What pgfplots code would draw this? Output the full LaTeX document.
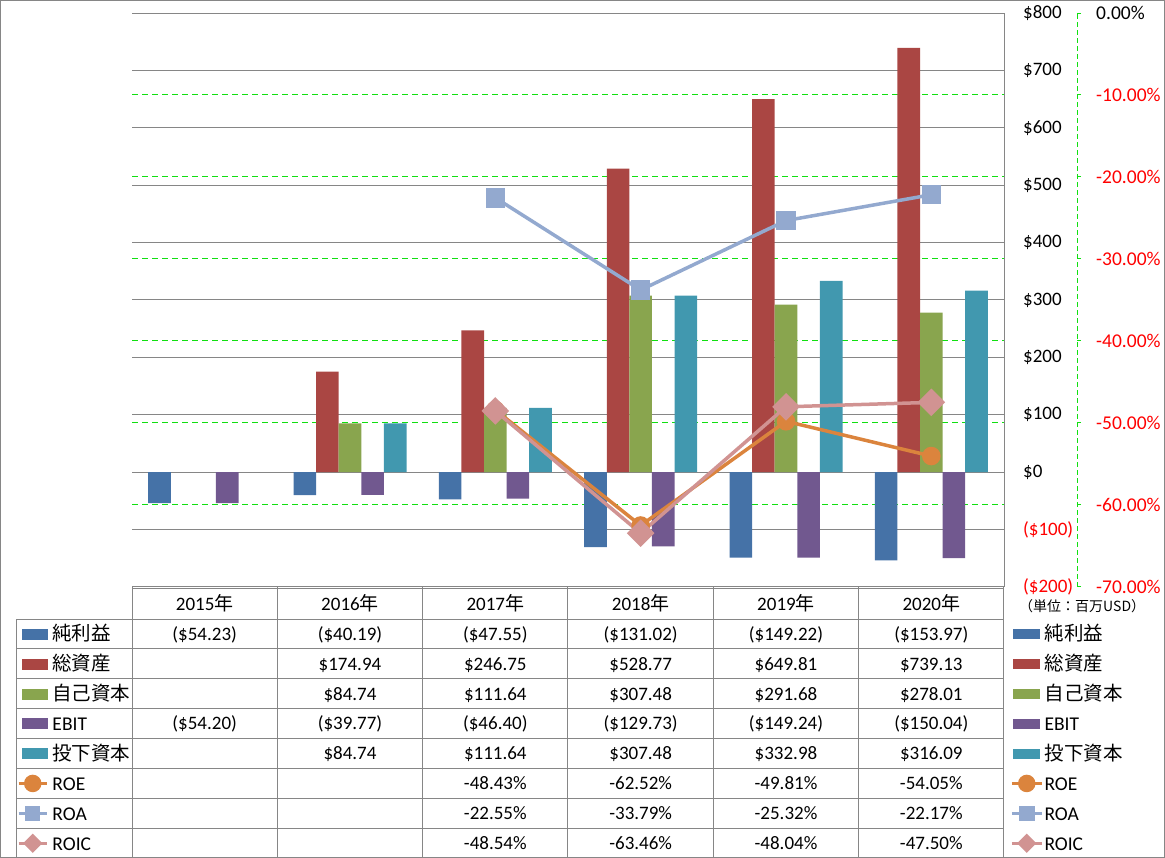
\documentclass[border=0pt]{standalone}
\usepackage{fontspec}
\setmainfont{Carlito}
\newfontfamily\jp{Noto Sans CJK JP}
\usepackage{pgfplots}
\pgfplotsset{compat=1.18}

\definecolor{c1}{HTML}{4572A7}
\definecolor{c2}{HTML}{AA4643}
\definecolor{c3}{HTML}{89A54E}
\definecolor{c4}{HTML}{71588F}
\definecolor{c5}{HTML}{4198AF}
\definecolor{roe}{HTML}{DB843D}
\definecolor{roa}{HTML}{93A9CF}
\definecolor{roic}{HTML}{D19392}
\definecolor{gridgray}{HTML}{868686}
\definecolor{grn}{HTML}{10E010}

\pgfplotsset{
  linekey/.style={legend image code/.code={\draw[mark repeat=2,mark phase=2,##1] plot coordinates {(0pt,0pt) (15pt,0pt) (30pt,0pt)};}},
  linekeyL/.style={legend image code/.code={\draw[mark repeat=2,mark phase=2,##1] plot coordinates {(0pt,0pt) (14pt,0pt) (28pt,0pt)};}},
  roestyle/.style={roe, line width=3.5pt, mark=*, mark size=7.5pt, mark options={fill=roe, draw=roe}},
  roastyle/.style={roa, line width=3.5pt, mark=square*, mark size=8pt, mark options={fill=roa, draw=roa, rounded corners=2pt}},
  roicstyle/.style={roic, line width=3.5pt, mark=square*, mark size=8pt, mark options={fill=roic, draw=roic, rotate=45}},
  roekey/.style={roe, line width=3.5pt, mark=*, mark size=7pt, mark options={fill=roe, draw=roe}},
  roakey/.style={roa, line width=3.5pt, mark=square*, mark size=6pt, mark options={fill=roa, draw=roa, rounded corners=2pt}},
  roickey/.style={roic, line width=3.5pt, mark=square*, mark size=5pt, mark options={fill=roic, draw=roic, rotate=45}},
}

% table cell: column (0..5), row (0..7), text
\newcommand\cell[3]{\node[anchor=base] at ({204.67+145.33*#1},{-(633.95+29.9*#2+6.3)}) {#3};}
\newcommand\trow[7]{\cell{0}{#1}{#2}\cell{1}{#1}{#3}\cell{2}{#1}{#4}\cell{3}{#1}{#5}\cell{4}{#1}{#6}\cell{5}{#1}{#7}}

\begin{document}
\begin{tikzpicture}
\useasboundingbox (0pt,0pt) rectangle (1165pt,-858pt);

% primary axis: bars
\begin{axis}[
  at={(132pt,-586.8pt)}, anchor=south west,
  scale only axis, width=872pt, height=573.8pt,
  xmin=-0.5, xmax=5.5, ymin=-200, ymax=800,
  xtick=\empty,
  axis x line=none, axis y line*=right,
  y axis line style={draw=gridgray, line width=1pt},
  ytick={-200,-100,...,800},
  yticklabels={\textcolor{red}{(\$200)},\textcolor{red}{(\$100)},\$0,\$100,\$200,\$300,\$400,\$500,\$600,\$700,\$800},
  yticklabel style={anchor=west, inner sep=0pt, xshift=19pt, font=\fontsize{19}{22}\selectfont},
  major tick length=0pt,
  ymajorgrids, major grid style={gridgray, line width=1pt},
  extra y ticks={657.142857,514.285714,371.428571,228.571429,85.714286,-57.142857},
  extra y tick labels={},
  extra y tick style={grid=major, major grid style={grn, line width=1pt, dash pattern=on 6pt off 4pt}},
  legend style={at={(axis description cs:1.00688,-0.0561)}, anchor=north west,
    draw=none, fill=none, inner sep=0pt, outer sep=0pt, row sep=0pt, column sep=1pt,
    font=\fontsize{19.5}{22}\selectfont,
    nodes={inner sep=0pt, text height=21.95pt, text depth=7.95pt, anchor=west}},
  legend cell align=left,
]
\addplot[ybar, bar width=0.1555, bar shift=-0.311, fill=c1, draw=none,
  legend image code/.code={\fill[c1] (1pt,-5pt) rectangle (28pt,5pt);}]
  coordinates {(0,-54.23) (1,-40.19) (2,-47.55) (3,-131.02) (4,-149.22) (5,-153.97)};
\addlegendentry{\jp 純利益}
\addplot[ybar, bar width=0.1555, bar shift=-0.1555, fill=c2, draw=none,
  legend image code/.code={\fill[c2] (1pt,-5pt) rectangle (28pt,5pt);}]
  coordinates {(1,174.94) (2,246.75) (3,528.77) (4,649.81) (5,739.13)};
\addlegendentry{\jp 総資産}
\addplot[ybar, bar width=0.1555, bar shift=0, fill=c3, draw=none,
  legend image code/.code={\fill[c3] (1pt,-5pt) rectangle (28pt,5pt);}]
  coordinates {(1,84.74) (2,111.64) (3,307.48) (4,291.68) (5,278.01)};
\addlegendentry{\jp 自己資本}
\addplot[ybar, bar width=0.1555, bar shift=0.1555, fill=c4, draw=none,
  legend image code/.code={\fill[c4] (1pt,-5pt) rectangle (28pt,5pt);}]
  coordinates {(0,-54.20) (1,-39.77) (2,-46.40) (3,-129.73) (4,-149.24) (5,-150.04)};
\addlegendentry{EBIT}
\addplot[ybar, bar width=0.1555, bar shift=0.311, fill=c5, draw=none,
  legend image code/.code={\fill[c5] (1pt,-5pt) rectangle (28pt,5pt);}]
  coordinates {(1,84.74) (2,111.64) (3,307.48) (4,332.98) (5,316.09)};
\addlegendentry{\jp 投下資本}
\addlegendimage{roekey, linekey}
\addlegendentry{ROE}
\addlegendimage{roakey, linekey}
\addlegendentry{ROA}
\addlegendimage{roickey, linekey}
\addlegendentry{ROIC}
\end{axis}

% secondary axis: ratios
\begin{axis}[
  at={(132pt,-586.8pt)}, anchor=south west,
  scale only axis, width=872pt, height=573.8pt,
  xmin=-0.5, xmax=5.5, ymin=-70, ymax=0,
  xtick=\empty,
  axis x line=none, axis y line*=right,
  y axis line style={draw=grn, line width=1pt, dash pattern=on 5pt off 3pt, xshift=73pt},
  ytick={-70,-60,...,0},
  yticklabels={\textcolor{red}{-70.00\%},\textcolor{red}{-60.00\%},\textcolor{red}{-50.00\%},\textcolor{red}{-40.00\%},\textcolor{red}{-30.00\%},\textcolor{red}{-20.00\%},\textcolor{red}{-10.00\%},0.00\%},
  yticklabel style={anchor=west, inner sep=0pt, xshift=88pt, font=\fontsize{19.5}{22}\selectfont},
  tick align=outside, major tick length=4pt,
  ytick style={draw=grn, line width=1pt, xshift=73pt},
]
\addplot[roestyle] coordinates {(2,-48.43) (3,-62.52) (4,-49.81) (5,-54.05)};
\addplot[roastyle] coordinates {(2,-22.55) (3,-33.79) (4,-25.32) (5,-22.17)};
\addplot[roicstyle] coordinates {(2,-48.54) (3,-63.46) (4,-48.04) (5,-47.50)};
\end{axis}

% row labels of the data table (legend keys)
\begin{axis}[
  at={(132pt,-586.8pt)}, anchor=south west,
  scale only axis, width=872pt, height=573.8pt,
  hide axis, xmin=0, xmax=1, ymin=0, ymax=1,
  legend style={at={(axis description cs:-0.13188,-0.0561)}, anchor=north west,
    draw=none, fill=none, inner sep=0pt, outer sep=0pt, row sep=0pt, column sep=4pt,
    font=\fontsize{19.5}{22}\selectfont,
    nodes={inner sep=0pt, text height=21.95pt, text depth=7.95pt, anchor=west}},
  legend cell align=left,
]
\addlegendimage{legend image code/.code={\fill[c1] (3pt,-5pt) rectangle (28pt,5pt);}}
\addlegendentry{\jp 純利益}
\addlegendimage{legend image code/.code={\fill[c2] (3pt,-5pt) rectangle (28pt,5pt);}}
\addlegendentry{\jp 総資産}
\addlegendimage{legend image code/.code={\fill[c3] (3pt,-5pt) rectangle (28pt,5pt);}}
\addlegendentry{\jp 自己資本}
\addlegendimage{legend image code/.code={\fill[c4] (3pt,-5pt) rectangle (28pt,5pt);}}
\addlegendentry{EBIT}
\addlegendimage{legend image code/.code={\fill[c5] (3pt,-5pt) rectangle (28pt,5pt);}}
\addlegendentry{\jp 投下資本}
\addlegendimage{roekey, linekeyL}
\addlegendentry{ROE}
\addlegendimage{roakey, linekeyL}
\addlegendentry{ROA}
\addlegendimage{roickey, linekeyL}
\addlegendentry{ROIC}
\end{axis}

% data table and chart border
\begin{scope}[x=1pt, y=1pt, font=\fontsize{19}{22}\selectfont]
\draw[gridgray, line width=1pt] (0.5,-0.5) rectangle (1164.5,-857.5);
\draw[gridgray, line width=1pt] (132,-588) -- (1004,-588);
\foreach \i in {0,...,7} \draw[gridgray, line width=1pt] (16,{-(619+29.9*\i)}) -- (1004,{-(619+29.9*\i)});
\draw[gridgray, line width=1pt] (16,-619) -- (16,-858);
\foreach \i in {0,...,6} \draw[gridgray, line width=1pt] ({132+145.33*\i},-586.8) -- ({132+145.33*\i},-858);
\foreach \yr [count=\i from 0] in {2015,...,2020} \node[anchor=base] at ({204.67+145.33*\i},-610) {\yr{\jp 年}};
\trow{0}{(\$54.23)}{(\$40.19)}{(\$47.55)}{(\$131.02)}{(\$149.22)}{(\$153.97)}
\trow{1}{}{\$174.94}{\$246.75}{\$528.77}{\$649.81}{\$739.13}
\trow{2}{}{\$84.74}{\$111.64}{\$307.48}{\$291.68}{\$278.01}
\trow{3}{(\$54.20)}{(\$39.77)}{(\$46.40)}{(\$129.73)}{(\$149.24)}{(\$150.04)}
\trow{4}{}{\$84.74}{\$111.64}{\$307.48}{\$332.98}{\$316.09}
\trow{5}{}{}{-48.43\%}{-62.52\%}{-49.81\%}{-54.05\%}
\trow{6}{}{}{-22.55\%}{-33.79\%}{-25.32\%}{-22.17\%}
\trow{7}{}{}{-48.54\%}{-63.46\%}{-48.04\%}{-47.50\%}
\node[anchor=west, inner sep=0pt] at (1019,-606) {\jp\fontsize{14}{16}\selectfont （単位：百万USD）};
\end{scope}
\end{tikzpicture}
\end{document}
